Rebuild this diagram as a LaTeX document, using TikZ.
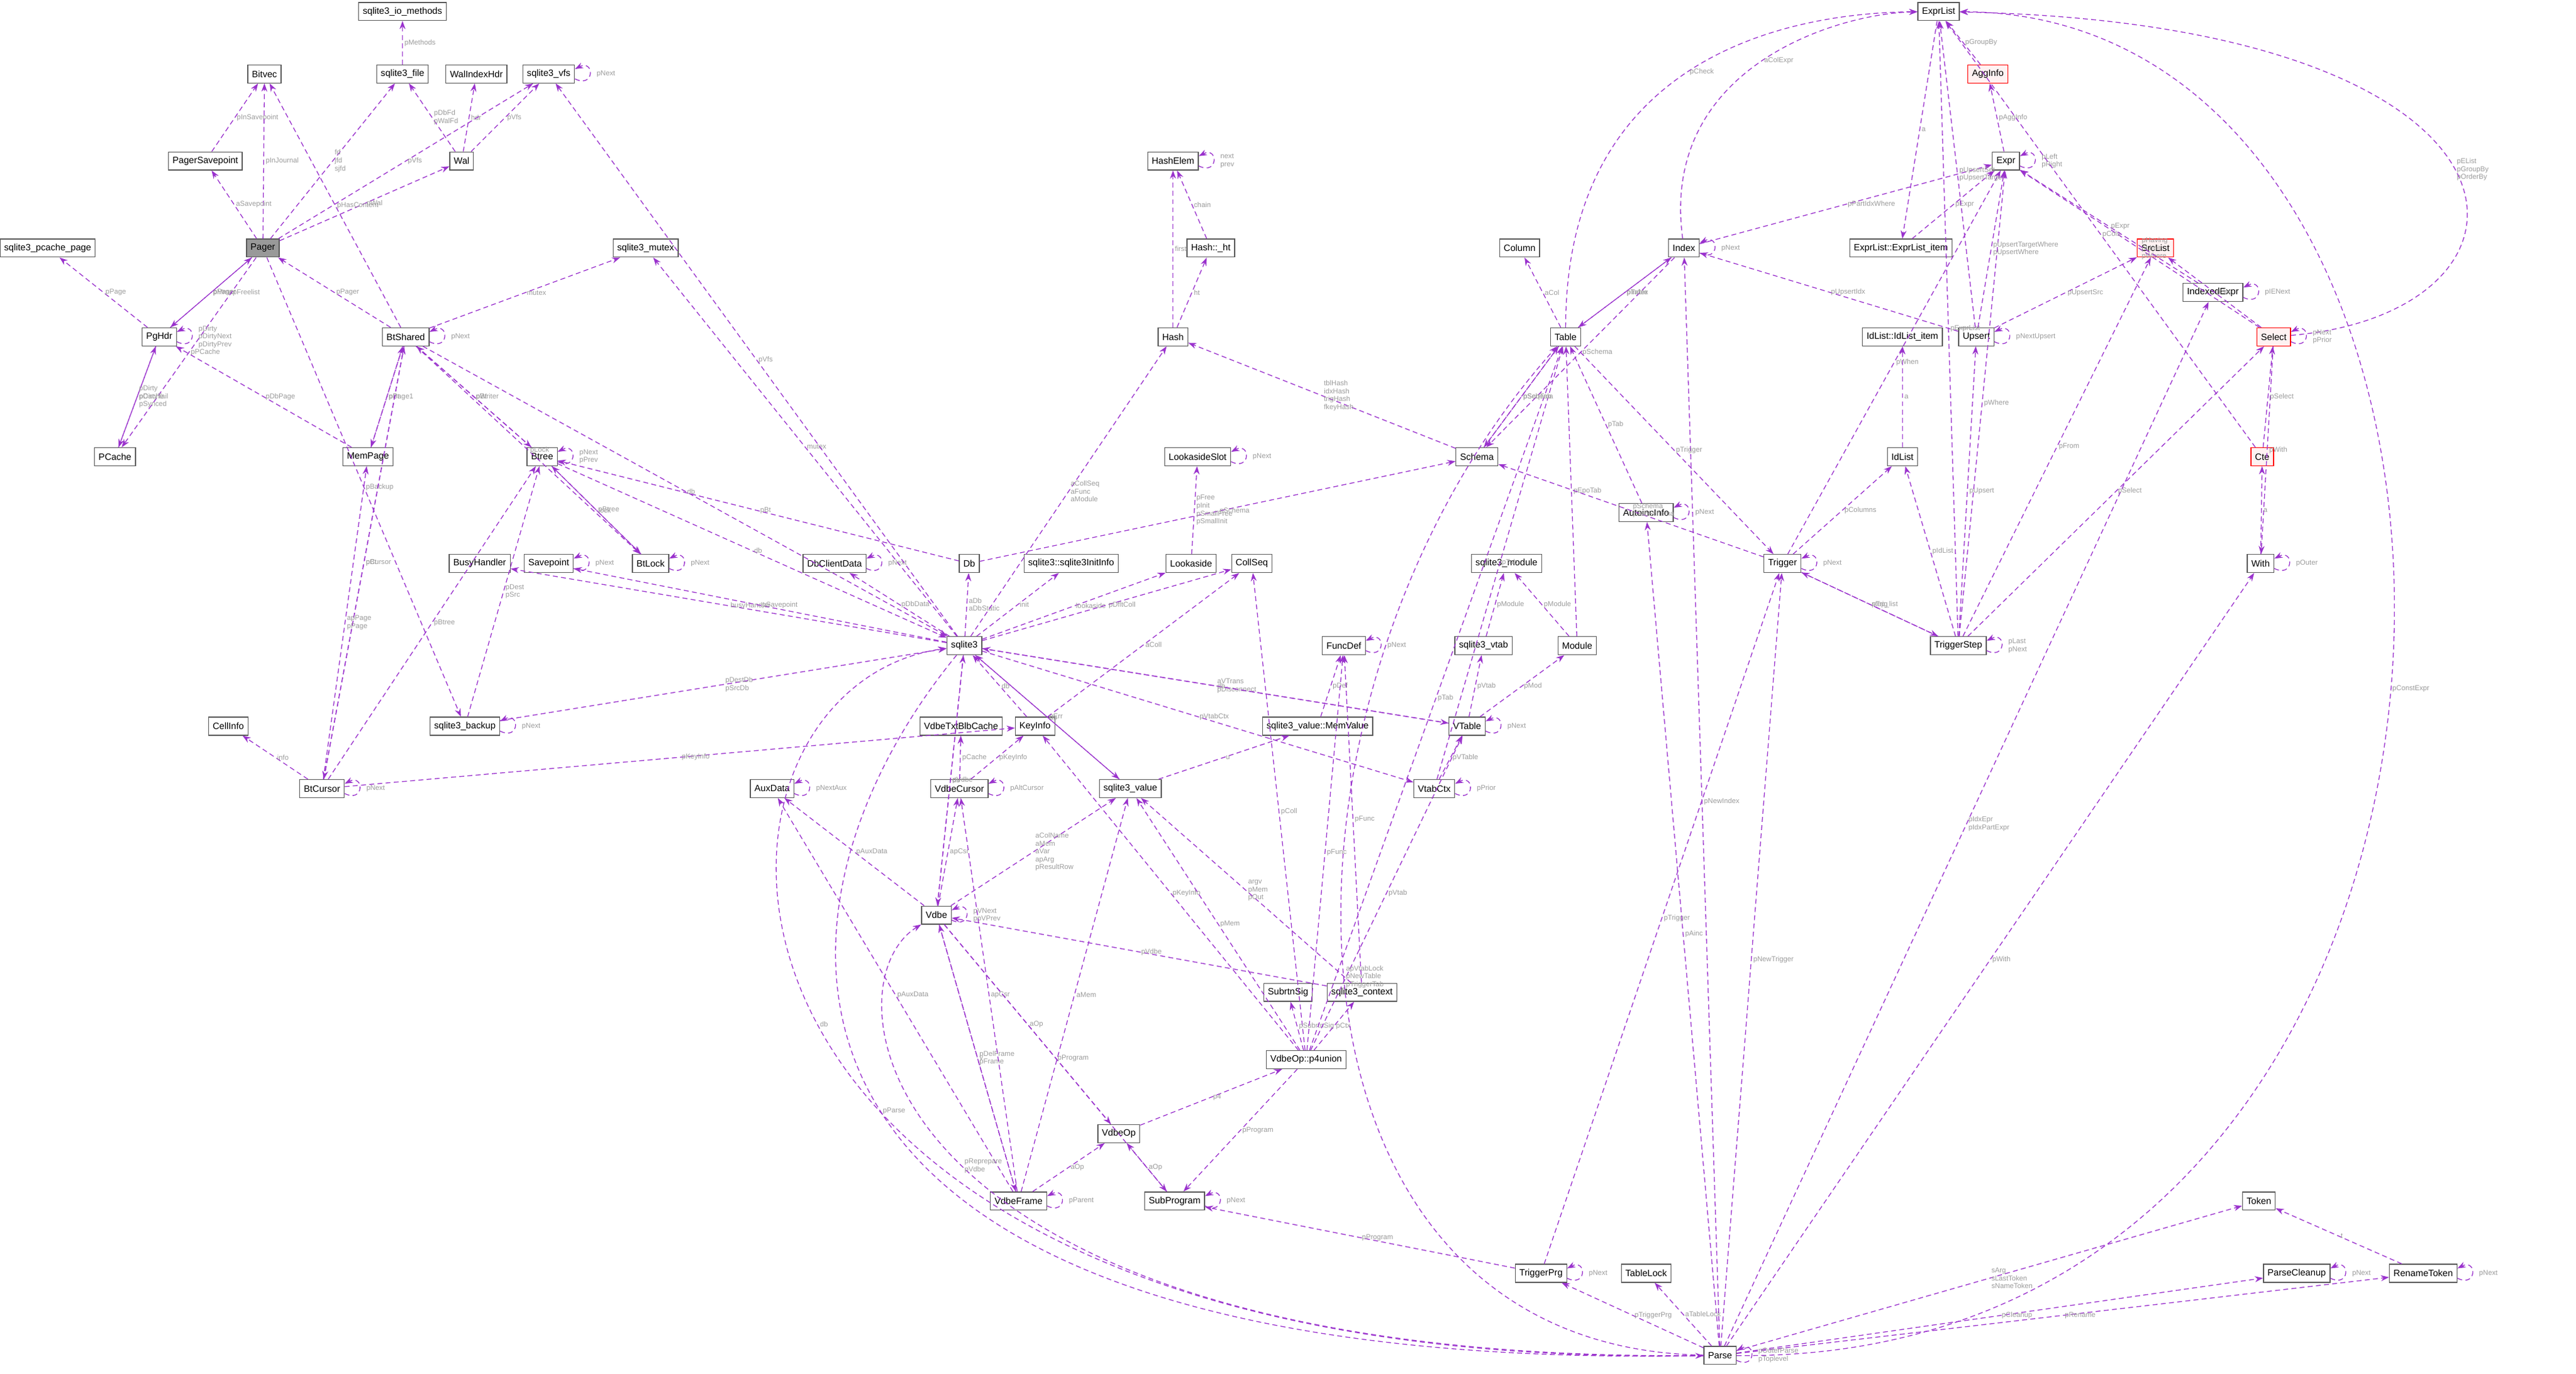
\documentclass[tikz,border=0pt]{standalone}
\usepackage{fontspec}
\setmainfont{Liberation Sans}
\usetikzlibrary{arrows.meta}
\definecolor{ecol}{HTML}{9A32CD}
\definecolor{lcol}{HTML}{9C9C9C}
\tikzset{
  nd/.style={draw=black!65, fill=white, line width=0.5pt, font=\fontsize{5.6}{6}\selectfont, inner xsep=2.5pt, inner ysep=2pt, minimum height=11pt},
  hl/.style={nd, fill=black!40},
  rd/.style={nd, draw=red, fill=red!5},
  e/.style={draw=ecol, dashed, dash pattern=on 3pt off 2pt, line width=0.5pt, -{Stealth[length=5pt,width=3.6pt]}},
  lbl/.style={font=\fontsize{4.3}{4.8}\selectfont, text=lcol, align=left, inner sep=1pt}
}
\newcommand\E[4][]{\draw[e,#1] (#2) -- node[lbl,pos=0.5,right]{#4} (#3);}
\newcommand\C[6]{\draw[e] (#1) .. controls (#3) and (#4) .. node[lbl,pos=0.5,right]{#6} (#2);}
\newcommand\LP[2]{\draw[e] ([yshift=-3pt]#1.east) .. controls +(12pt,-6pt) and +(12pt,6pt) .. ([yshift=3pt]#1.east) node[lbl,pos=0.5,right=3pt]{#2};}
\begin{document}
\begin{tikzpicture}[x=1pt,y=-1pt]
\useasboundingbox[fill=white] (0,0) rectangle (1568,836);
% nodes
\node[nd] (iom) at (245,7) {sqlite3\_io\_methods};
\node[nd] (bitvec) at (161,45) {Bitvec};
\node[nd] (sfile) at (245,45) {sqlite3\_file};
\node[nd] (walidx) at (290,45) {WalIndexHdr};
\node[nd] (vfs) at (334,45) {sqlite3\_vfs};
\node[nd] (psave) at (125,98) {PagerSavepoint};
\node[nd] (wal) at (281,98) {Wal};
\node[nd] (pcpage) at (29,151) {sqlite3\_pcache\_page};
\node[hl] (pager) at (160,151) {Pager};
\node[nd] (mutex) at (393,151) {sqlite3\_mutex};
\node[nd] (pghdr) at (97,205) {PgHdr};
\node[nd] (btshared) at (247,205) {BtShared};
\node[nd] (pcache) at (70,278) {PCache};
\node[nd] (mempage) at (224,278) {MemPage};
\node[nd] (btree) at (330,278) {Btree};
\node[nd] (busy) at (292,343) {BusyHandler};
\node[nd] (savept) at (334,343) {Savepoint};
\node[nd] (btlock) at (396,343) {BtLock};
\node[nd] (dbcd) at (508,343) {DbClientData};
\node[nd] (db) at (590,343) {Db};
\node[nd] (initinfo) at (652,343) {sqlite3::sqlite3InitInfo};
\node[nd] (lookaside) at (725,343) {Lookaside};
\node[nd] (collseq) at (762,343) {CollSeq};
\node[nd] (lslot) at (729,278) {LookasideSlot};
\node[nd] (schema) at (899,278) {Schema};
\node[nd] (sq) at (587,393) {sqlite3};
\node[nd] (backup) at (283,442) {sqlite3\_backup};
\node[nd] (btcursor) at (196,480) {BtCursor};
\node[nd] (cellinfo) at (139,442) {CellInfo};
\node[nd] (txtblb) at (585,442) {VdbeTxtBlbCache};
\node[nd] (keyinfo) at (630,442) {KeyInfo};
\node[nd] (vcursor) at (584,480) {VdbeCursor};
\node[nd] (auxdata) at (470,480) {AuxData};
\node[nd] (value) at (688,480) {sqlite3\_value};
\node[nd] (vdbe) at (570,557) {Vdbe};
\node[nd] (memvalue) at (802,442) {sqlite3\_value::MemValue};
\node[nd] (funcdef) at (818,393) {FuncDef};
\node[nd] (vtab) at (903,393) {sqlite3\_vtab};
\node[nd] (module) at (960,393) {Module};
\node[nd] (smodule) at (917,343) {sqlite3\_module};
\node[nd] (vtable) at (893,442) {VTable};
\node[nd] (vtabctx) at (873,480) {VtabCtx};
\node[nd] (subrtn) at (784,604) {SubrtnSig};
\node[nd] (context) at (829,604) {sqlite3\_context};
\node[nd] (p4u) at (795,645) {VdbeOp::p4union};
\node[nd] (vdbeop) at (681,690) {VdbeOp};
\node[nd] (vframe) at (620,731) {VdbeFrame};
\node[nd] (subprog) at (715,731) {SubProgram};
\node[nd] (hashelem) at (714,98) {HashElem};
\node[nd] (htab) at (737,151) {Hash::\_ht};
\node[nd] (hash) at (714,205) {Hash};
\node[nd] (column) at (925,151) {Column};
\node[nd] (index) at (1025,151) {Index};
\node[nd] (table) at (953,205) {Table};
\node[nd] (autoinc) at (1002,312) {AutoincInfo};
\node[nd] (trigger) at (1085,343) {Trigger};
\node[nd] (idlitem) at (1158,205) {IdList::IdList\_item};
\node[nd] (idlist) at (1158,278) {IdList};
\node[nd] (exprlist) at (1180,7) {ExprList};
\node[rd] (agginfo) at (1210,45) {AggInfo};
\node[nd] (expr) at (1221,98) {Expr};
\node[nd] (elitem) at (1157,151) {ExprList::ExprList\_item};
\node[nd] (upsert) at (1203,205) {Upsert};
\node[rd] (srclist) at (1312,151) {SrcList};
\node[nd] (iexpr) at (1347,178) {IndexedExpr};
\node[rd] (select) at (1384,205) {Select};
\node[rd] (cte) at (1377,278) {Cte};
\node[nd] (with) at (1376,343) {With};
\node[nd] (tstep) at (1192,393) {TriggerStep};
\node[nd] (tprg) at (938,775) {TriggerPrg};
\node[nd] (tlock) at (1002,775) {TableLock};
\node[nd] (parse) at (1047,825) {Parse};
\node[nd] (token) at (1375,731) {Token};
\node[nd] (pclean) at (1398,775) {ParseCleanup};
\node[nd] (rtoken) at (1475,775) {RenameToken};
% edges
\E{sfile}{iom}{pMethods}
\E[bend left=30]{psave}{bitvec}{pInSavepoint}
\E{pager}{bitvec}{pInJournal}
\E{pager}{psave}{aSavepoint}
\E[bend right=15]{pager}{sfile}{fd\\jfd\\sjfd}
\E{wal}{sfile}{pDbFd\\pWalFd}
\E{wal}{walidx}{hdr}
\E{wal}{vfs}{pVfs}
\E[bend right=10]{pager}{wal}{pWal}
\E[bend right=25]{pager}{vfs}{pVfs}
\LP{vfs}{pNext}
\E{btshared}{bitvec}{pHasContent}
\E{pghdr}{pcpage}{pPage}
\E[bend left=20]{pghdr}{pager}{pPager}
\E[bend left=15]{pager}{pghdr}{pMmapFreelist}
\E[bend right=30]{pager}{pcache}{pPCache}
\LP{pghdr}{pDirty\\pDirtyNext\\pDirtyPrev}
\E[bend right=30]{pghdr}{pcache}{pCache}
\E[bend right=30]{pcache}{pghdr}{pDirty\\pDirtyTail\\pSynced}
\E[bend left=20]{btshared}{pager}{pPager}
\E{btshared}{mutex}{mutex}
\LP{btshared}{pNext}
\E{mempage}{pghdr}{pDbPage}
\E[bend left=25]{mempage}{btshared}{pBt}
\E{btshared}{mempage}{pPage1}
\E[bend left=10]{btree}{btshared}{pBt}
\E[bend left=25]{btshared}{btree}{pWriter}
\E[bend left=10]{btshared}{btlock}{pLock}
\E[bend left=20]{btshared}{sq}{db}
\LP{btree}{pNext\\pPrev}
\E[bend left=15]{btree}{sq}{db}
\E[bend left=20]{btree}{btlock}{lock}
\E[bend left=30]{btlock}{btree}{pBtree}
\LP{btlock}{pNext}
\LP{savept}{pNext}
\E[bend left=15]{sq}{busy}{busyHandler}
\E[bend left=10]{sq}{savept}{pSavepoint}
\E{sq}{dbcd}{pDbData}
\LP{dbcd}{pNext}
\E{sq}{db}{aDb\\aDbStatic}
\E{db}{btree}{pBt}
\E[bend left=10]{db}{schema}{pSchema}
\E{sq}{initinfo}{init}
\E[bend right=15]{sq}{lookaside}{lookaside}
\E{lookaside}{lslot}{pFree\\pInit\\pSmallFree\\pSmallInit}
\LP{lslot}{pNext}
\E[bend right=15]{sq}{collseq}{pDfltColl}
\E[bend right=10]{sq}{hash}{aCollSeq\\aFunc\\aModule}
\E[bend left=10]{sq}{mutex}{mutex}
\E[bend right=10]{sq}{vfs}{pVfs}
\E[bend left=10]{sq}{vtable}{aVTrans\\pDisconnect}
\E[bend right=10]{sq}{vdbe}{pVdbe}
\E[bend left=10]{sq}{value}{pErr}
\E{sq}{vtabctx}{pVtabCtx}
\C{sq}{parse}{450,560}{440,835}{}{pParse}
\E[bend left=15]{backup}{btree}{pDest\\pSrc}
\E[bend right=10]{backup}{sq}{pDestDb\\pSrcDb}
\LP{backup}{pNext}
\E[bend right=10]{pager}{backup}{pBackup}
\E[bend left=10]{btcursor}{btshared}{pBt}
\E[bend left=10]{btshared}{btcursor}{pCursor}
\E{btcursor}{mempage}{apPage\\pPage}
\E[bend left=10]{btcursor}{btree}{pBtree}
\E{btcursor}{cellinfo}{info}
\E{btcursor}{keyinfo}{pKeyInfo}
\LP{btcursor}{pNext}
\E{keyinfo}{sq}{db}
\E{keyinfo}{collseq}{aColl}
\E{vcursor}{txtblb}{pCache}
\E{vcursor}{keyinfo}{pKeyInfo}
\LP{vcursor}{pAltCursor}
\E{vdbe}{vcursor}{apCsr}
\E[bend left=10]{vdbe}{sq}{db}
\LP{vdbe}{pVNext\\ppVPrev}
\E{vdbe}{value}{aColName\\aMem\\aVar\\apArg\\pResultRow}
\E{vdbe}{auxdata}{pAuxData}
\LP{auxdata}{pNextAux}
\E{vdbe}{vdbeop}{aOp}
\E{vdbe}{vframe}{pDelFrame\\pFrame}
\E{vdbe}{subprog}{pProgram}
\E[bend right=10]{value}{sq}{db}
\E{value}{memvalue}{u}
\E{memvalue}{funcdef}{pDef}
\LP{funcdef}{pNext}
\E[bend right=10]{vtable}{sq}{db}
\E{vtable}{vtab}{pVtab}
\E{vtable}{module}{pMod}
\LP{vtable}{pNext}
\E{vtab}{smodule}{pModule}
\E{module}{smodule}{pModule}
\E[bend right=10]{module}{table}{pEpoTab}
\E{vtabctx}{vtable}{pVTable}
\E{vtabctx}{table}{pTab}
\LP{vtabctx}{pPrior}
\E{context}{funcdef}{pFunc}
\E{context}{value}{argv\\pMem\\pOut}
\E{context}{vdbe}{pVdbe}
\E[bend right=20]{p4u}{funcdef}{pFunc}
\E[bend right=30]{p4u}{collseq}{pColl}
\E{p4u}{keyinfo}{pKeyInfo}
\E{p4u}{value}{pMem}
\E{p4u}{subrtn}{pSubrtnSig}
\E{p4u}{context}{pCtx}
\E[bend right=20]{p4u}{vtable}{pVtab}
\E[bend right=25]{p4u}{table}{pTab}
\E{p4u}{subprog}{pProgram}
\E[bend left=15]{vdbeop}{p4u}{p4}
\E{vframe}{vdbeop}{aOp}
\E{vframe}{vdbe}{v}
\E{vframe}{value}{aMem}
\E{vframe}{vcursor}{apCsr}
\E{vframe}{auxdata}{pAuxData}
\LP{vframe}{pParent}
\E{subprog}{vdbeop}{aOp}
\LP{subprog}{pNext}
\E{tprg}{subprog}{pProgram}
\E{tprg}{trigger}{pTrigger}
\LP{tprg}{pNext}
\E{parse}{tprg}{pTriggerPrg}
\E{parse}{tlock}{aTableLock}
\E[bend right=15]{parse}{token}{sArg\\sLastToken\\sNameToken}
\E[bend right=10]{parse}{pclean}{pCleanup}
\LP{pclean}{pNext}
\E{rtoken}{token}{t}
\LP{rtoken}{pNext}
\E[bend right=15]{parse}{rtoken}{pRename}
\LP{parse}{pOuterParse\\pToplevel}
\E{parse}{autoinc}{pAinc}
\E{parse}{index}{pNewIndex}
\C{parse}{table}{760,820}{760,420}{}{apVtabLock\\pNewTable\\pTriggerTab}
\E{parse}{trigger}{pNewTrigger}
\E[bend right=10]{parse}{with}{pWith}
\E[bend right=5]{parse}{iexpr}{pIdxEpr\\pIdxPartExpr}
\C{parse}{exprlist}{1565,830}{1565,10}{}{pConstExpr}
\C{parse}{vdbe}{530,830}{500,600}{}{pReprepare\\pVdbe}
\C{parse}{sq}{390,836}{400,420}{}{db}
\E{agginfo}{exprlist}{pGroupBy}
\E{expr}{agginfo}{pAggInfo}
\LP{expr}{pLeft\\pRight}
\E{exprlist}{elitem}{a}
\E{elitem}{expr}{pExpr}
\E[bend right=20]{select}{expr}{pHaving\\pLimit\\pWhere}
\C{select}{exprlist}{1562,190}{1560,15}{}{pEList\\pGroupBy\\pOrderBy}
\E[bend left=20]{select}{srclist}{pSrc}
\LP{select}{pNext\\pPrior}
\E[bend left=10]{select}{with}{pWith}
\E{cte}{select}{pSelect}
\E{with}{cte}{a}
\LP{with}{pOuter}
\E[bend right=30]{cte}{exprlist}{pCols}
\C{index}{exprlist}{1010,40}{1120,8}{}{aColExpr}
\E{index}{expr}{pPartIdxWhere}
\E[bend left=10]{index}{table}{pTable}
\E[bend left=15]{index}{schema}{pSchema}
\LP{index}{pNext}
\E{table}{column}{aCol}
\E[bend left=25]{table}{index}{pIndex}
\E[bend right=25]{table}{schema}{pSchema}
\C{table}{exprlist}{953,40}{1080,8}{}{pCheck}
\E[bend left=15]{table}{trigger}{pTrigger}
\E[bend right=25]{schema}{table}{pSeqTab}
\E{schema}{hash}{tblHash\\idxHash\\trigHash\\fkeyHash}
\E{hash}{htab}{ht}
\E[bend left=20]{hash}{hashelem}{first}
\E{htab}{hashelem}{chain}
\LP{hashelem}{next\\prev}
\E[bend left=10]{trigger}{schema}{pSchema\\pTabSchema}
\E[bend left=10]{trigger}{expr}{pWhen}
\E{trigger}{idlist}{pColumns}
\E[bend right=15]{trigger}{tstep}{step\_list}
\LP{trigger}{pNext}
\E[bend right=15]{tstep}{trigger}{pTrig}
\E{tstep}{idlist}{pIdList}
\E{tstep}{upsert}{pUpsert}
\E[bend right=10]{tstep}{expr}{pWhere}
\E[bend left=10]{tstep}{exprlist}{pExprList}
\E[bend right=10]{tstep}{srclist}{pFrom}
\E[bend right=10]{tstep}{select}{pSelect}
\LP{tstep}{pLast\\pNext}
\E{idlist}{idlitem}{a}
\E[bend left=20]{upsert}{exprlist}{pUpsertSet\\pUpsertTarget}
\E{upsert}{expr}{pUpsertTargetWhere\\pUpsertWhere}
\E{upsert}{srclist}{pUpsertSrc}
\E[bend right=10]{upsert}{index}{pUpsertIdx}
\LP{upsert}{pNextUpsert}
\E[bend right=15]{iexpr}{expr}{pExpr}
\LP{iexpr}{pIENext}
\E{autoinc}{table}{pTab}
\LP{autoinc}{pNext}
\end{tikzpicture}
\end{document}
